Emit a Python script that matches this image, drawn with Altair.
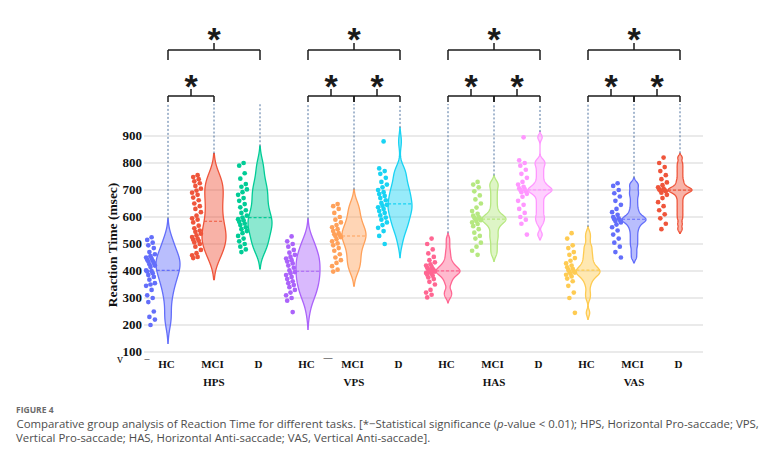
import altair as alt
import numpy as np
import pandas as pd

# ---------------- data ----------------
TASKS = ["HPS", "VPS", "HAS", "VAS"]
GROUPS = ["HC", "MCI", "D"]
Y_TICKS = [100, 200, 300, 400, 500, 600, 700, 800, 900]

HPS_HC = [525, 515, 505, 495, 485, 470, 462, 455, 450, 446, 442, 438, 435, 430, 425, 420, 415, 402,
          400, 398, 392, 385, 378, 368, 355, 350, 345, 330, 310, 300, 285, 250, 230, 220, 200]
HPS_MCI = [755, 748, 740, 732, 725, 715, 705, 698, 690, 682, 672, 662, 650, 640, 630, 618, 605, 595,
           590, 580, 568, 558, 550, 545, 538, 532, 526, 520, 516, 512, 506, 500, 490, 478, 466, 458, 452, 448]
HPS_D = [800, 790, 762, 742, 722, 712, 702, 692, 682, 670, 660, 648, 636, 625, 615, 605, 598, 592,
         588, 582, 576, 570, 562, 555, 548, 540, 530, 520, 510, 500, 490, 480, 470]
VPS_HC = [528, 510, 500, 490, 478, 468, 460, 452, 446, 440, 435, 428, 420, 412, 402, 396, 392, 385,
          378, 370, 362, 355, 348, 340, 330, 320, 310, 300, 290, 248]
VPS_MCI = [648, 640, 630, 615, 600, 590, 580, 570, 562, 555, 548, 540, 536, 533, 530, 525, 518, 510,
           502, 495, 485, 475, 462, 450, 440, 430, 418, 405, 398]
VPS_D = [880, 780, 770, 760, 745, 730, 720, 710, 700, 692, 685, 678, 670, 662, 652, 645, 642, 636,
         630, 622, 615, 606, 598, 590, 580, 570, 560, 548, 530, 500]
HAS_HC = [520, 500, 480, 465, 452, 440, 432, 425, 420, 415, 412, 408, 405, 402, 400, 398, 396, 393,
          390, 386, 382, 376, 370, 360, 350, 330, 320, 312, 302]
HAS_MCI = [730, 720, 710, 695, 680, 665, 650, 635, 622, 612, 605, 600, 597, 594, 591, 588, 585, 580,
           574, 566, 555, 542, 530, 520, 505, 490, 475, 460]
HAS_D = [895, 810, 800, 790, 775, 760, 745, 730, 720, 712, 706, 703, 700, 696, 692, 686, 675, 660,
         645, 630, 615, 600, 590, 575, 535]
VAS_HC = [540, 520, 495, 485, 470, 460, 448, 438, 428, 420, 414, 408, 404, 400, 397, 394, 390, 386,
          380, 372, 362, 345, 320, 300, 245]
VAS_MCI = [725, 715, 700, 688, 676, 660, 645, 630, 618, 608, 600, 595, 592, 589, 585, 580, 572, 562,
           550, 535, 520, 505, 490, 470, 450]
VAS_D = [820, 800, 785, 770, 755, 740, 728, 718, 710, 705, 702, 700, 698, 695, 690, 682, 670, 655,
         640, 625, 610, 595, 575, 555]

RT = {
    ("HPS", "HC"): HPS_HC, ("HPS", "MCI"): HPS_MCI, ("HPS", "D"): HPS_D,
    ("VPS", "HC"): VPS_HC, ("VPS", "MCI"): VPS_MCI, ("VPS", "D"): VPS_D,
    ("HAS", "HC"): HAS_HC, ("HAS", "MCI"): HAS_MCI, ("HAS", "D"): HAS_D,
    ("VAS", "HC"): VAS_HC, ("VAS", "MCI"): VAS_MCI, ("VAS", "D"): VAS_D,
}

COLORS = ["#636EFA", "#EF553B", "#00CC96", "#AB63FA", "#FFA15A", "#19D3F3",
          "#FF6692", "#B6E880", "#FF97FF", "#FECB52", "#636EFA", "#EF553B"]
BANDWIDTH = [34, 40, 31, 32, 27, 25, 10, 12, 10, 12, 10, 8]

COMPARISONS = [
    ("HPS", "HC", "D", "top"), ("HPS", "HC", "MCI", "low"),
    ("VPS", "HC", "D", "top"), ("VPS", "HC", "MCI", "low"), ("VPS", "MCI", "D", "low"),
    ("HAS", "HC", "D", "top"), ("HAS", "HC", "MCI", "low"), ("HAS", "MCI", "D", "low"),
    ("VAS", "HC", "D", "top"), ("VAS", "HC", "MCI", "low"), ("VAS", "MCI", "D", "low"),
]

Y_TITLE = "Reaction Time (msec)"
FIG_LABEL = "FIGURE 4"
CAP1_A = "Comparative group analysis of Reaction Time for different tasks. [*\u2212Statistical significance ("
CAP1_P = "p"
CAP1_B = "-value < 0.01); HPS, Horizontal Pro-saccade; VPS,"
CAP2 = "Vertical Pro-saccade; HAS, Horizontal Anti-saccade; VAS, Vertical Anti-saccade]."

# ---------------- layout ----------------
PLOT_LEFT, PLOT_TOP, PLOT_W, PLOT_H = 144, 136, 559, 216
SLOT_PX = 46.0
FIRST_PX = 24.0
GROUP_STEP = 140.0 / SLOT_PX
DOT_OFF = 17.5 / SLOT_PX
JIT = 1.1 / SLOT_PX
HALF = 12.0 / SLOT_PX
Y_LO, Y_HI = 100, 900

XS = alt.Scale(domain=[-FIRST_PX / SLOT_PX, (PLOT_W - FIRST_PX) / SLOT_PX], nice=False, zero=False)
YS = alt.Scale(domain=[Y_LO, Y_HI], nice=False, zero=False)


def pv(px):
    """pixel row (page) -> value on the reaction-time scale (for annotations)"""
    return Y_HI - (px - PLOT_TOP) * (Y_HI - Y_LO) / PLOT_H


def slot(ti, gi):
    return ti * GROUP_STEP + gi


BR = {"top": dict(line=50, leg=60, stem=43, star=34),
      "low": dict(line=96, leg=102, stem=89, star=81)}
CONNECT_PX = 104

rows = []
keys = []
for ti, t in enumerate(TASKS):
    for gi, g in enumerate(GROUPS):
        k = f"{t}-{g}"
        keys.append(k)
        for v in RT[(t, g)]:
            rows.append({"task": t, "group": g, "key": k, "slot": slot(ti, gi), "rt": v})
df = pd.DataFrame(rows)

layers = []

# y grid, tick labels
tdf = pd.DataFrame({"tick": Y_TICKS})
grid = alt.Chart(tdf).mark_rule(color="#d6d6d6", strokeWidth=1.1).encode(
    y=alt.Y("tick:Q", scale=YS, axis=None), x=alt.value(0), x2=alt.value(PLOT_W))
ticklab = alt.Chart(tdf).mark_text(
    font="Liberation Serif", fontWeight="bold", fontSize=13, color="#111", align="right",
    baseline="middle").encode(
    y=alt.Y("tick:Q", scale=YS, axis=None), x=alt.value(-2), text="tick:Q")
layers += [grid, ticklab]

# dots
dots = alt.Chart(df).transform_window(
    idx="row_number()", groupby=["key"]
).transform_calculate(
    xd=f"datum.slot - {DOT_OFF} + ((datum.idx * 5) % 9 - 4) * {JIT}"
).mark_circle(size=22, opacity=1).encode(
    x=alt.X("xd:Q", scale=XS, axis=None),
    y=alt.Y("rt:Q", scale=YS, axis=None),
    color=alt.Color("key:N", scale=alt.Scale(domain=keys, range=COLORS), legend=None),
)
layers.append(dots)

# violins
i = 0
for ti, t in enumerate(TASKS):
    for gi, g in enumerate(GROUPS):
        vals = RT[(t, g)]
        k = f"{t}-{g}"
        col = COLORS[i]
        bw = BANDWIDTH[i]
        pos = slot(ti, gi)
        med = float(np.median(vals))
        lo, hi = min(vals) - 2 * bw, max(vals) + 2 * bw
        base = alt.Chart(df).transform_filter(
            alt.datum.key == k
        ).transform_density(
            "rt", as_=["rt", "density"], bandwidth=bw, extent=[lo, hi], steps=220
        ).transform_joinaggregate(
            maxd="max(density)"
        ).transform_calculate(
            half=f"datum.density / datum.maxd * {HALF}"
        ).transform_calculate(
            left=f"{pos} - datum.half", right=f"{pos} + datum.half"
        )
        area = base.mark_area(orient="horizontal", fill=col, fillOpacity=0.45, stroke=col,
                              strokeWidth=1.3).encode(
            y=alt.Y("rt:Q", scale=YS, axis=None),
            x=alt.X("left:Q", scale=XS, axis=None),
            x2="right:Q",
        )
        medline = base.transform_calculate(
            dist=f"abs(datum.rt - {med})"
        ).transform_joinaggregate(
            mind="min(dist)"
        ).transform_filter(
            "datum.dist == datum.mind"
        ).mark_rule(color=col, strokeDash=[3, 2], strokeWidth=1.1).encode(
            y=alt.Y("rt:Q", scale=YS, axis=None),
            x=alt.X("left:Q", scale=XS, axis=None),
            x2="right:Q",
        )
        conn = base.transform_aggregate(
            top="max(rt)"
        ).transform_calculate(
            xc=f"{pos}", yc=f"{pv(CONNECT_PX)}"
        ).mark_rule(color="#4f73a0", strokeDash=[2, 2], strokeWidth=1).encode(
            x=alt.X("xc:Q", scale=XS, axis=None),
            y=alt.Y("top:Q", scale=YS, axis=None),
            y2="yc:Q",
        )
        layers += [area, medline, conn]
        i += 1

# brackets
brows = []
for (t, a, b, lvl) in COMPARISONS:
    ti = TASKS.index(t)
    x1, x2 = slot(ti, GROUPS.index(a)), slot(ti, GROUPS.index(b))
    geo = BR[lvl]
    brows.append({"x1": x1, "x2": x2, "xm": (x1 + x2) / 2, "yl": pv(geo["line"]),
                  "yg": pv(geo["leg"]), "ys": pv(geo["stem"]), "yt": pv(geo["star"]), "star": "*"})
bdf = pd.DataFrame(brows)
bcol = "#1a1a1a"
hline = alt.Chart(bdf).mark_rule(color=bcol, strokeWidth=1.5).encode(
    x=alt.X("x1:Q", scale=XS, axis=None), x2="x2:Q", y=alt.Y("yl:Q", scale=YS, axis=None))
legs = alt.Chart(bdf).transform_fold(["x1", "x2"], as_=["end", "xe"]).mark_rule(
    color=bcol, strokeWidth=1.5).encode(
    x=alt.X("xe:Q", scale=XS, axis=None), y=alt.Y("yl:Q", scale=YS, axis=None), y2="yg:Q")
stems = alt.Chart(bdf).mark_rule(color=bcol, strokeWidth=1.5).encode(
    x=alt.X("xm:Q", scale=XS, axis=None), y=alt.Y("yl:Q", scale=YS, axis=None), y2="ys:Q")
stars = alt.Chart(bdf).mark_text(font="Liberation Sans", fontSize=34, fontWeight="bold",
                                 color=bcol, baseline="middle", dy=7).encode(
    x=alt.X("xm:Q", scale=XS, axis=None), y=alt.Y("yt:Q", scale=YS, axis=None), text="star:N")
layers += [hline, legs, stems, stars]

# category labels
lrows = []
for ti, t in enumerate(TASKS):
    for gi, g in enumerate(GROUPS):
        lrows.append({"lab": g, "x": slot(ti, gi), "kind": "g"})
    lrows.append({"lab": t, "x": slot(ti, 1), "kind": "t"})
ldf = pd.DataFrame(lrows)
glabels = alt.Chart(ldf).transform_filter(alt.datum.kind == "g").mark_text(
    font="Liberation Serif", fontWeight="bold", fontSize=11, color="#111", baseline="middle", dx=-1.5
).encode(x=alt.X("x:Q", scale=XS, axis=None), y=alt.value(365 - PLOT_TOP), text="lab:N")
tlabels = alt.Chart(ldf).transform_filter(alt.datum.kind == "t").mark_text(
    font="Liberation Serif", fontWeight="bold", fontSize=11, color="#111", baseline="middle"
).encode(x=alt.X("x:Q", scale=XS, axis=None), y=alt.value(383 - PLOT_TOP), text="lab:N")
layers += [glabels, tlabels]


def ptext(txt, x, y, **kw):
    return alt.Chart(pd.DataFrame({"t": [txt]})).mark_text(baseline="middle", **kw).encode(
        text="t:N", x=alt.value(x - PLOT_LEFT), y=alt.value(y - PLOT_TOP))


# y-axis title
layers.append(ptext(Y_TITLE, 113, 245, font="Liberation Serif", fontSize=13.5, fontWeight="bold",
                    color="#111", align="center", angle=270))

# stray marks in the figure
layers.append(ptext("v", 120, 359, font="Liberation Serif", fontSize=12, color="#222", align="center"))
layers.append(ptext("_", 147, 355, font="Liberation Serif", fontSize=10, color="#222", align="center"))
layers.append(ptext("\u2014", 328, 357, font="Liberation Serif", fontSize=9, color="#222", align="center"))

# caption
CAP_FONT = "Open Sans"
CAP_SIZE = 11.4
XP = 497
layers.append(ptext(FIG_LABEL, 16, 409.5, font=CAP_FONT, fontSize=8.5, fontWeight="bold", color="#6b6b6b",
                    align="left"))
layers.append(ptext(CAP1_A, XP, 424.5, font=CAP_FONT, fontSize=CAP_SIZE, color="#4d4d4d", align="right"))
layers.append(ptext(CAP1_P, XP, 424.5, font=CAP_FONT, fontSize=CAP_SIZE, color="#4d4d4d", align="left",
                    fontStyle="italic"))
layers.append(ptext(CAP1_B, XP + 6.8, 424.5, font=CAP_FONT, fontSize=CAP_SIZE, color="#4d4d4d", align="left"))
layers.append(ptext(CAP2, 16, 439, font=CAP_FONT, fontSize=CAP_SIZE, color="#4d4d4d", align="left"))

chart = alt.layer(*layers).properties(
    width=PLOT_W, height=PLOT_H,
    autosize=alt.AutoSizeParams(type="none"),
    padding={"left": PLOT_LEFT, "top": PLOT_TOP, "right": 772 - PLOT_LEFT - PLOT_W,
             "bottom": 451 - PLOT_TOP - PLOT_H},
    background="white",
).configure_view(stroke=None)

chart.save("out.html", embed_options={"renderer": "svg", "actions": False})
